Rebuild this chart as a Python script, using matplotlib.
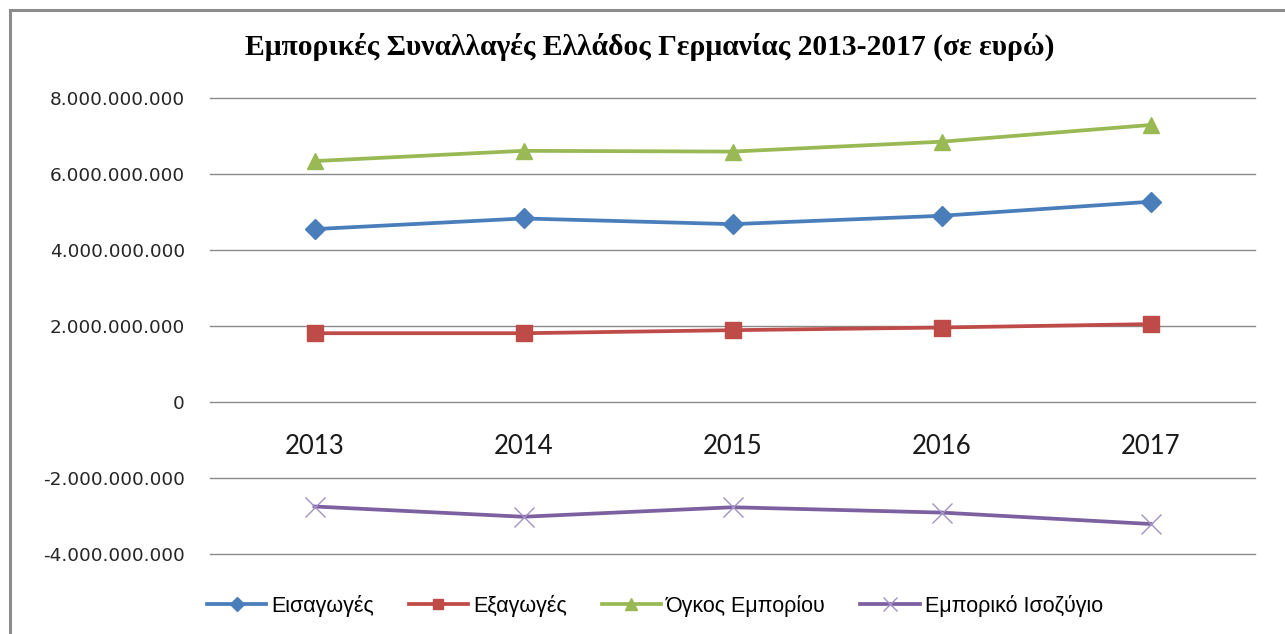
import matplotlib.pyplot as plt
from matplotlib.lines import Line2D
from matplotlib.ticker import FuncFormatter

# Greece-Germany trade, 2013-2017 (euro)
years = ['2013', '2014', '2015', '2016', '2017']
imports = [4.55e9, 4.83e9, 4.68e9, 4.90e9, 5.27e9]
exports = [1.81e9, 1.81e9, 1.89e9, 1.96e9, 2.05e9]
volume = [6.34e9, 6.61e9, 6.59e9, 6.85e9, 7.29e9]
balance = [-2.75e9, -3.02e9, -2.77e9, -2.91e9, -3.21e9]

labels = ['Εισαγωγές', 'Εξαγωγές', 'Όγκος Εμπορίου', 'Εμπορικό Ισοζύγιο']

fig = plt.figure(figsize=(12.85, 6.34), dpi=100)
ax = fig.add_axes([210 / 1285, 1 - 554 / 634, 1045 / 1285, 456 / 634])

x = range(len(years))
ax.plot(x, imports, color='#4a7ebb', lw=2.7, marker='D', ms=10, label=labels[0])
ax.plot(x, exports, color='#be4b48', lw=2.7, marker='s', ms=11, label=labels[1])
ax.plot(x, volume, color='#98b954', lw=2.7, marker='^', ms=11.5, label=labels[2])
ax.plot(x, balance, color='#7d60a0', lw=2.7, marker='x', ms=15, mew=1,
        mec='#a491c4', label=labels[3])

ax.set_xlim(-0.5, 4.5)
ax.set_ylim(-4e9, 8e9)
ax.set_yticks([-4e9, -2e9, 0, 2e9, 4e9, 6e9, 8e9])
ax.yaxis.set_major_formatter(FuncFormatter(lambda v, p: f'{v:,.0f}'.replace(',', '.')))
ax.grid(axis='y', color='#8a8a8a', lw=1)
for g in ax.get_ygridlines():
    g.set_clip_on(False)
ax.set_axisbelow(True)

for s in ['top', 'right', 'left']:
    ax.spines[s].set_visible(False)
ax.spines['bottom'].set_position(('data', 0))
ax.spines['bottom'].set_visible(False)

ax.set_xticks(list(x))
ax.set_xticklabels(years, family='Lato', fontsize=18.5, color='#1a1a1a')
ax.tick_params(axis='x', length=0, pad=23)
ax.tick_params(axis='y', length=0, pad=18, labelsize=13.3, labelcolor='#262626')

fig.text(650 / 1285, 1 - 47 / 634, 'Εμπορικές Συναλλαγές Ελλάδος Γερμανίας 2013-2017 (σε ευρώ)',
         family='Liberation Serif', weight='bold', fontsize=21.3, ha='center', va='center')

handles, lbls = ax.get_legend_handles_labels()
fig.legend(handles, lbls, loc='center', bbox_to_anchor=(655 / 1285, 1 - 606 / 634), ncol=4,
           frameon=False, prop={'family': 'Liberation Sans', 'size': 15.5},
           handlelength=2.75, handletextpad=0.25, columnspacing=1.6, markerscale=0.7)

# chart frame (top and left edges visible)
fig.add_artist(Line2D([9.5 / 1285, 9.5 / 1285], [0, 1 - 10 / 634], color='#8c8c8c', lw=2.2))
fig.add_artist(Line2D([9.5 / 1285, 1], [1 - 10 / 634, 1 - 10 / 634], color='#8c8c8c', lw=2.2))

fig.savefig('out.png', dpi=100)
